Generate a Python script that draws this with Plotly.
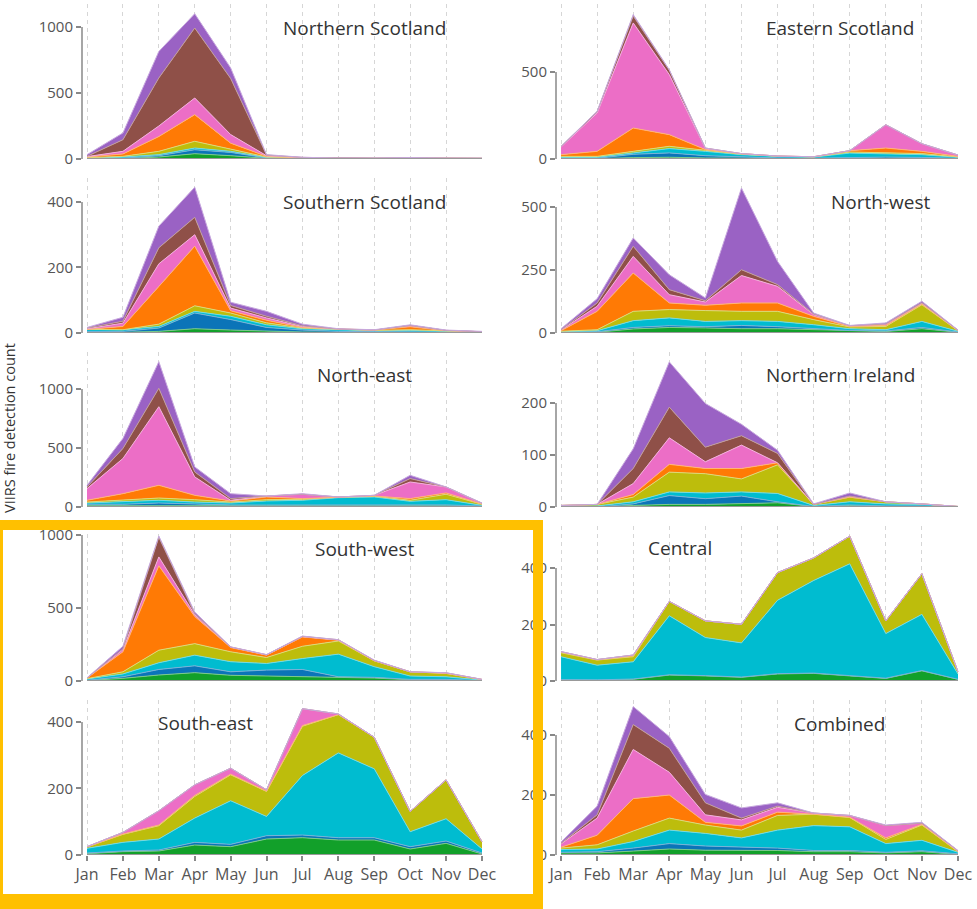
import plotly.graph_objects as go

# ---------------- data ----------------
months = ["Jan", "Feb", "Mar", "Apr", "May", "Jun", "Jul", "Aug", "Sep", "Oct", "Nov", "Dec"]
layer_names = ["Class 1", "Class 2", "Class 3", "Class 4", "Class 5", "Class 6", "Class 7", "Class 8"]

# each region: 8 layers (bottom -> top), 12 monthly values
northern_scotland = [
    [2, 3, 15, 40, 25, 5, 3, 2, 2, 2, 2, 2],
    [1, 3, 10, 30, 25, 3, 3, 2, 2, 1, 1, 1],
    [3, 9, 8, 13, 8, 4, 3, 2, 2, 2, 2, 2],
    [4, 5, 25, 51, 17, 3, 1, 0, 0, 1, 0, 0],
    [5, 18, 112, 202, 45, 5, 0, 0, 0, 1, 0, 0],
    [3, 20, 80, 126, 65, 5, 2, 1, 1, 3, 1, 1],
    [2, 88, 364, 530, 425, 5, 0, 0, 0, 0, 0, 0],
    [13, 51, 201, 108, 80, 3, 1, 0, 0, 1, 0, 0],
]
eastern_scotland = [
    [2, 2, 8, 10, 6, 4, 3, 3, 4, 5, 4, 2],
    [2, 2, 19, 25, 13, 7, 3, 2, 4, 6, 5, 2],
    [6, 6, 8, 25, 25, 14, 9, 6, 26, 20, 16, 6],
    [5, 5, 9, 13, 6, 3, 1, 1, 6, 4, 6, 2],
    [10, 29, 134, 67, 4, 3, 1, 1, 8, 28, 13, 3],
    [44, 220, 604, 345, 7, 0, 0, 0, 0, 134, 44, 8],
    [3, 8, 40, 25, 2, 0, 0, 0, 0, 0, 0, 0],
    [1, 2, 8, 3, 0, 0, 0, 0, 0, 0, 0, 0],
]
southern_scotland = [
    [2, 2, 5, 13, 9, 5, 3, 2, 2, 2, 1, 1],
    [3, 3, 10, 48, 32, 12, 6, 3, 2, 2, 1, 1],
    [6, 5, 5, 5, 10, 8, 4, 5, 3, 4, 3, 1],
    [0, 0, 7, 17, 10, 6, 2, 1, 1, 2, 1, 0],
    [0, 10, 115, 182, 7, 8, 2, 1, 1, 9, 1, 1],
    [2, 10, 69, 35, 8, 7, 3, 0, 0, 4, 1, 0],
    [2, 6, 49, 53, 8, 5, 2, 0, 0, 0, 0, 0],
    [2, 12, 66, 92, 10, 15, 5, 1, 1, 2, 1, 1],
]
north_west = [
    [2, 3, 16, 22, 20, 17, 17, 13, 7, 6, 17, 3],
    [1, 2, 6, 7, 5, 13, 8, 4, 3, 2, 5, 1],
    [2, 4, 27, 31, 21, 19, 21, 16, 7, 5, 24, 3],
    [2, 4, 37, 33, 43, 37, 40, 20, 7, 13, 66, 2],
    [2, 73, 152, 26, 21, 33, 33, 13, 2, 4, 3, 1],
    [3, 20, 66, 33, 13, 109, 66, 7, 3, 6, 4, 1],
    [1, 13, 40, 20, 5, 23, 7, 2, 0, 0, 1, 0],
    [4, 17, 33, 59, 11, 324, 92, 4, 1, 4, 6, 1],
]
north_east = [
    [11, 11, 12, 11, 10, 10, 10, 10, 10, 10, 10, 5],
    [12, 12, 22, 12, 7, 7, 7, 7, 7, 8, 8, 3],
    [11, 25, 23, 19, 17, 34, 40, 62, 68, 30, 44, 6],
    [8, 14, 19, 20, 8, 11, 8, 6, 6, 9, 46, 9],
    [15, 51, 108, 37, 9, 23, 6, 0, 2, 14, 11, 2],
    [99, 298, 666, 156, 6, 8, 37, 0, 6, 141, 51, 5],
    [14, 85, 156, 42, 14, 0, 0, 0, 0, 29, 0, 2],
    [14, 85, 226, 43, 42, 0, 5, 0, 0, 28, 0, 2],
]
northern_ireland = [
    [0, 0, 3, 5, 5, 6, 8, 1, 3, 1, 1, 0],
    [0, 0, 3, 17, 11, 15, 2, 0, 1, 1, 1, 0],
    [1, 2, 4, 7, 11, 8, 16, 2, 6, 4, 3, 1],
    [2, 3, 9, 38, 37, 25, 55, 2, 9, 4, 1, 0],
    [0, 0, 5, 15, 10, 20, 4, 0, 0, 0, 0, 0],
    [0, 0, 21, 51, 13, 45, 0, 0, 2, 0, 0, 0],
    [0, 0, 29, 59, 28, 18, 18, 0, 0, 0, 0, 0],
    [0, 0, 38, 87, 84, 22, 6, 1, 6, 0, 0, 0],
]
south_west = [
    [3, 18, 41, 57, 39, 34, 29, 23, 20, 9, 8, 2],
    [2, 11, 38, 47, 24, 41, 50, 6, 5, 2, 3, 1],
    [9, 19, 46, 73, 69, 45, 75, 155, 73, 23, 18, 3],
    [2, 15, 86, 79, 68, 41, 84, 90, 40, 29, 23, 4],
    [4, 137, 578, 186, 29, 16, 64, 5, 0, 0, 0, 0],
    [1, 15, 61, 12, 3, 2, 2, 2, 2, 0, 3, 1],
    [0, 5, 135, 6, 1, 1, 2, 2, 1, 0, 1, 0],
    [1, 18, 8, 12, 1, 1, 2, 0, 2, 0, 1, 0],
]
central = [
    [4, 3, 6, 21, 18, 13, 25, 27, 18, 9, 36, 6],
    [1, 1, 1, 1, 1, 1, 1, 1, 1, 1, 1, 0],
    [81, 52, 61, 209, 135, 121, 260, 328, 396, 158, 199, 19],
    [14, 18, 18, 51, 59, 66, 98, 80, 98, 45, 144, 8],
    [2, 1, 3, 0, 0, 0, 0, 0, 0, 0, 0, 0],
    [2, 1, 3, 0, 0, 0, 0, 0, 0, 0, 0, 0],
    [0, 0, 0, 0, 0, 0, 0, 0, 0, 0, 0, 0],
    [0, 0, 0, 0, 0, 0, 0, 0, 0, 0, 0, 0],
]
south_east = [
    [4, 10, 12, 30, 25, 48, 52, 45, 45, 18, 35, 3],
    [2, 2, 3, 8, 7, 10, 8, 7, 7, 7, 7, 3],
    [14, 26, 33, 73, 131, 58, 179, 255, 207, 45, 67, 12],
    [4, 24, 40, 65, 78, 75, 148, 115, 95, 61, 117, 22],
    [0, 1, 2, 3, 2, 1, 2, 0, 0, 0, 0, 0],
    [1, 5, 43, 32, 18, 4, 51, 2, 0, 0, 0, 0],
    [0, 0, 0, 0, 0, 0, 0, 0, 0, 0, 0, 0],
    [0, 0, 0, 0, 0, 0, 0, 0, 0, 0, 0, 0],
]
combined = [
    [7, 7, 13, 20, 16, 15, 15, 11, 11, 7, 11, 2],
    [2, 4, 10, 18, 14, 11, 8, 4, 4, 2, 3, 2],
    [9, 9, 22, 45, 42, 31, 60, 83, 79, 29, 35, 5],
    [5, 14, 35, 40, 28, 26, 49, 38, 31, 14, 51, 2],
    [3, 32, 108, 77, 9, 14, 11, 0, 1, 5, 2, 1],
    [11, 57, 164, 76, 25, 20, 16, 4, 6, 41, 4, 2],
    [2, 11, 83, 80, 40, 6, 4, 0, 0, 0, 0, 0],
    [4, 29, 60, 39, 28, 34, 11, 0, 0, 2, 3, 1],
]

region_titles = ["Northern Scotland", "Eastern Scotland", "Southern Scotland", "North-west",
                 "North-east", "Northern Ireland", "South-west", "Central", "South-east", "Combined"]
region_data = [northern_scotland, eastern_scotland, southern_scotland, north_west, north_east,
               northern_ireland, south_west, central, south_east, combined]
region_yticks = [[0, 500, 1000], [0, 500], [0, 200, 400], [0, 250, 500], [0, 500, 1000],
                 [0, 100, 200], [0, 500, 1000], [0, 200, 400], [0, 200, 400], [0, 200, 400]]
y_label = "VIIRS fire detection count"

# ---------------- style / layout ----------------
W, H = 977, 909
layer_colors = ["#12a02a", "#0b74b8", "#00bcd0", "#bdbd0c", "#ff7a05", "#ec6ec6", "#8f5048", "#9a62c4"]
y_range_tops = [1174, 891, 473, 615, 1314, 298, 1062, 549, 466, 517]
title_pos = [(364, 28), (840, 28), (364, 202), (880, 202), (364, 375),
             (840, 375), (364, 549), (680, 548), (205, 723), (839, 724)]
col_dom = [(82, 482.7), (556, 958.7)]
x_range = [-0.14, 11.02]
FONT = "Open Sans"


def tint(hexc, f=0.45):
    r, g, b = int(hexc[1:3], 16), int(hexc[3:5], 16), int(hexc[5:7], 16)
    r, g, b = [int(c + (255 - c) * f) for c in (r, g, b)]
    return f"rgb({r},{g},{b})"


fig = go.Figure()
shapes = []
annotations = []
layout_axes = {}

for i, (title, data) in enumerate(zip(region_titles, region_data)):
    row, col = i // 2, i % 2
    zero_px = 159 + 174 * row
    top_px = zero_px - 155
    ax = "" if i == 0 else str(i + 1)
    for k, vals in enumerate(data):
        fig.add_trace(go.Scatter(
            x=months, y=vals, name=layer_names[k], stackgroup=f"g{i}",
            mode="lines", line=dict(width=1, color=tint(layer_colors[k])),
            fillcolor=layer_colors[k], showlegend=False,
            xaxis=f"x{ax}", yaxis=f"y{ax}",
        ))
    bottom = row == 4
    layout_axes[f"xaxis{ax}"] = dict(
        domain=[col_dom[col][0] / W, col_dom[col][1] / W],
        anchor=f"y{ax}", range=x_range, type="category", automargin=False,
        showgrid=True, gridcolor="#d6d6d6", griddash="4px,4px", gridwidth=1,
        showline=False, zeroline=False,
        showticklabels=bottom, ticks="outside" if bottom else "",
        ticklen=5, tickwidth=1.5, tickcolor="#888",
        tickfont=dict(family=FONT, size=16, color="#555"),
    )
    ticks = region_yticks[i]
    layout_axes[f"yaxis{ax}"] = dict(
        domain=[1 - zero_px / H, 1 - top_px / H],
        anchor=f"x{ax}", range=[0, y_range_tops[i]], automargin=False,
        showgrid=False, zeroline=False, showline=False,
        tickvals=ticks, ticks="outside", ticklen=5, tickwidth=1.5, tickcolor="#888",
        tickfont=dict(family=FONT, size=15, color="#555"),
    )
    # trimmed y spine
    shapes.append(dict(type="line", xref=f"x{ax} domain", yref=f"y{ax}",
                       x0=0, x1=0, y0=0, y1=ticks[-1],
                       line=dict(color="#888", width=1.5), layer="above"))
    # trimmed x spine
    shapes.append(dict(type="line", xref=f"x{ax}", yref=f"y{ax}",
                       x0=months[0], x1=months[-1], y0=0, y1=0,
                       line=dict(color="#999", width=2), layer="above"))
    cx, cy = title_pos[i]
    annotations.append(dict(text=title, x=cx / W, y=1 - cy / H, xref="paper", yref="paper",
                            xanchor="center", yanchor="middle", showarrow=False,
                            font=dict(family=FONT, size=19, color="#333")))

annotations.append(dict(text=y_label, x=9 / W, y=1 - 428 / H, xref="paper", yref="paper",
                        xanchor="center", yanchor="middle", showarrow=False, textangle=-90,
                        font=dict(family=FONT, size=14.5, color="#333")))

# highlight box around the bottom-left panels
hl = "#FFC000"
for (x0, y0, x1, y1) in [(0, 520, 543, 530), (0, 520, 3, 909), (533, 520, 543, 909), (0, 894, 543, 909)]:
    shapes.append(dict(type="rect", xref="paper", yref="paper",
                       x0=x0 / W, x1=x1 / W, y0=1 - y0 / H, y1=1 - y1 / H,
                       fillcolor=hl, line=dict(width=0), layer="above"))

fig.update_layout(
    width=W, height=H, margin=dict(l=0, r=0, t=0, b=0, autoexpand=False),
    paper_bgcolor="white", plot_bgcolor="white",
    font=dict(family=FONT, color="#555"),
    shapes=shapes, annotations=annotations, showlegend=False,
    **layout_axes,
)

fig.write_html("out.html", config={"displayModeBar": False},
               post_script="document.body.style.margin='0px';document.body.style.overflow='hidden';")
